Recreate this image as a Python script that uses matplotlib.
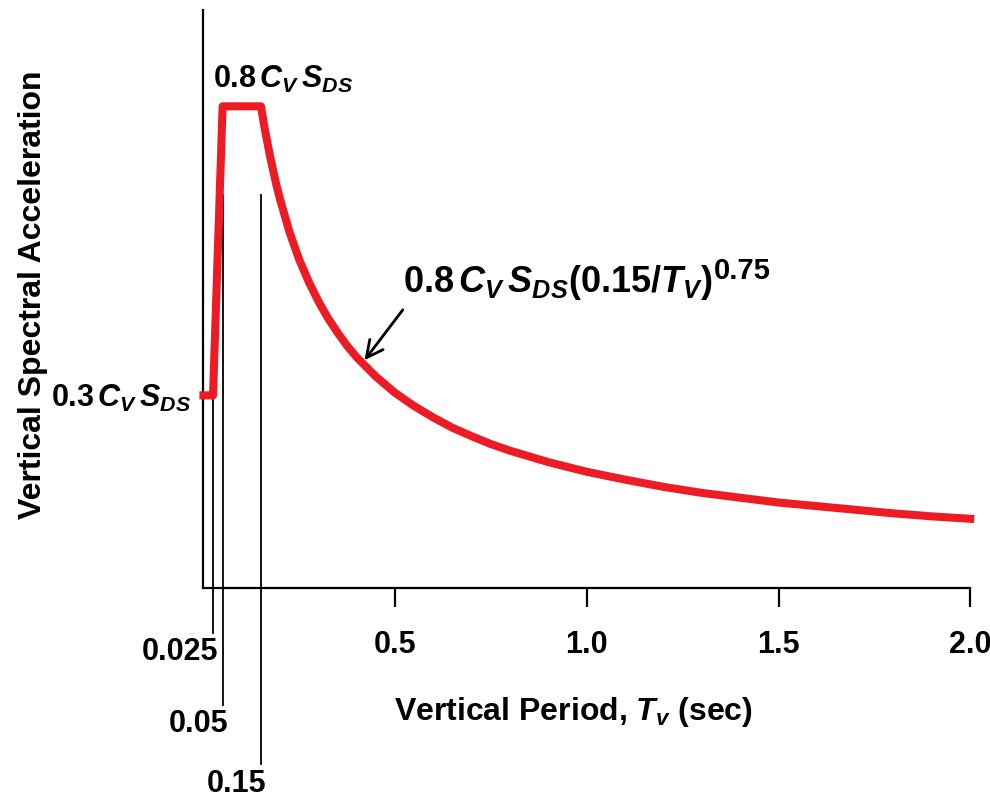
# - - - - - - - IMPORTS - - - - - - -
import numpy as np
import matplotlib
matplotlib.use("Agg")
from matplotlib import pyplot as plt

# - - - - - - - DATA - - - - - - -
# spectrum (plateau drawn at 0.8, step drawn a bit above 0.3)
period = [0.0, 0.025, 0.05, 0.15, 0.16, 0.175, 0.19, 0.2, 0.225, 0.25, 0.275,
          0.3, 0.325, 0.35, 0.375, 0.4, 0.45, 0.5, 0.55, 0.6, 0.65, 0.7, 0.75,
          0.8, 0.9, 1.0, 1.1, 1.2, 1.3, 1.4, 1.5, 1.6, 1.7, 1.8, 1.9, 2.0]
accel = [0.32, 0.32, 0.8, 0.8, 0.762, 0.713, 0.670, 0.645, 0.590, 0.545, 0.508,
         0.476, 0.448, 0.424, 0.402, 0.383, 0.351, 0.324, 0.302, 0.283, 0.266,
         0.252, 0.239, 0.228, 0.209, 0.193, 0.180, 0.168, 0.158, 0.150, 0.142,
         0.136, 0.130, 0.124, 0.119, 0.115]

marker_periods = [0.025, 0.05, 0.15]
marker_labels = ["0.025", "0.05", "0.15"]

xtick_values = [0.5, 1.0, 1.5, 2.0]
xtick_labels = ["0.5", "1.0", "1.5", "2.0"]

step_level = 0.32
step_label = r"0.3$\,C_V\,S_{DS}$"
plateau_label = r"0.8$\,C_V\,S_{DS}$"
curve_label = r"$0.8\,C_V\,S_{DS}(0.15/T_V)$"
curve_exponent = "0.75"

# - - - - - - - STYLE - - - - - - -
plt.rcParams["font.family"] = ["Liberation Sans", "DejaVu Sans"]
plt.rcParams["font.weight"] = "bold"
plt.rcParams["mathtext.fontset"] = "custom"
plt.rcParams["mathtext.rm"] = "Liberation Sans:bold"
plt.rcParams["mathtext.it"] = "Liberation Sans:italic:bold"
plt.rcParams["mathtext.bf"] = "Liberation Sans:bold"

RED = "#ED1C24"


# - - - - - - - MAIN - - - - - - -
def main():
	fig = plt.figure(figsize=(9.9, 7.97), dpi=100)
	ax = fig.add_axes([0.2055, 0.2622, 0.7745, 0.7253])
	ax.set_xlim(0, 2.0)
	ax.set_ylim(0, 0.96)

	for s in ["top", "right"]:
		ax.spines[s].set_visible(False)
	for s in ["left", "bottom"]:
		ax.spines[s].set_linewidth(1.6)

	# spectrum curve
	ax.plot(period, accel, color=RED, lw=5.8, solid_capstyle="projecting",
	        solid_joinstyle="round", clip_on=False, zorder=5)

	# marker lines for the corner periods, running below the axis
	tops = [step_level, 0.653, 0.653]
	bottoms = [-0.075, -0.194, -0.293]
	for xp, lab, top, bot in zip(marker_periods, marker_labels, tops, bottoms):
		ax.plot([xp, xp], [top, bot], color="black", lw=1.3, clip_on=False, zorder=3)
		ax.annotate(lab, xy=(xp, bot), xytext=(4, -3), textcoords="offset points",
		            ha="right", va="top", fontsize=22, fontweight="bold",
		            annotation_clip=False)

	ax.set_xticks(xtick_values)
	ax.set_xticklabels(xtick_labels, fontsize=22, fontweight="bold")
	ax.tick_params(axis="x", direction="out", length=14, width=1.6, pad=16)

	ax.set_yticks([step_level])
	ax.set_yticklabels([step_label], fontsize=22, fontweight="bold")
	ax.tick_params(axis="y", length=0, pad=9)

	ax.set_xlabel(r"Vertical Period, $T_v$ (sec)", fontsize=23, fontweight="bold")
	ax.xaxis.set_label_coords(0.482, -0.185)
	ax.set_ylabel("Vertical Spectral Acceleration", fontsize=23, fontweight="bold")
	ax.yaxis.set_label_coords(-0.203, 0.507)

	# plateau label
	ax.text(0.025, 0.845, plateau_label, fontsize=22, ha="left", va="center")

	# curve label with arrow
	tip_x = 0.42
	tip_y = np.interp(tip_x, period, accel)
	ax.annotate("", xy=(tip_x, tip_y + 0.008), xytext=(0.52, 0.462),
	            arrowprops=dict(arrowstyle="->", lw=2, color="black",
	                            mutation_scale=30, shrinkA=0, shrinkB=0))
	main_txt = ax.text(0.521, 0.475, curve_label, fontsize=26, ha="left", va="bottom")
	ax.annotate(curve_exponent, xy=(1, 1), xycoords=main_txt, xytext=(1, -16),
	            textcoords="offset points", ha="left", va="bottom", fontsize=21,
	            fontweight="bold")

	fig.savefig("out.png", dpi=100)


# - - - - - - - RUN - - - - - - -
if __name__ == "__main__":
	main()
